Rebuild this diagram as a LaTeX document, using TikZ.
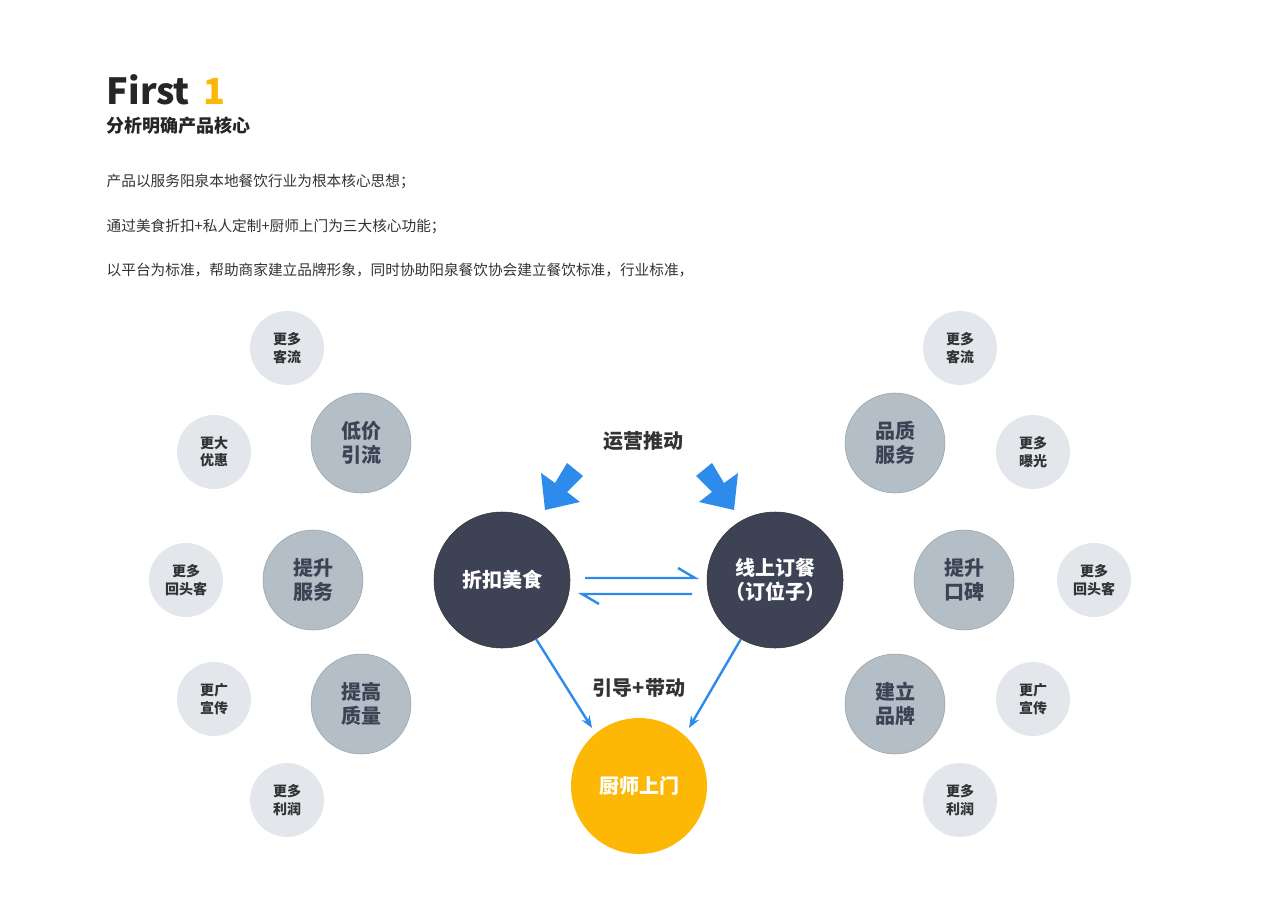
\documentclass[tikz,border=0pt]{standalone}
\usepackage{fontspec}
\setmainfont{Noto Sans CJK SC}
\usetikzlibrary{arrows.meta}
\definecolor{dk}{HTML}{3D4354}
\definecolor{md}{HTML}{B3BEC7}
\definecolor{lt}{HTML}{E3E7EB}
\definecolor{yl}{HTML}{FDB705}
\definecolor{bl}{HTML}{2D8CEB}
\definecolor{tx}{HTML}{333333}
\begin{document}
\begin{tikzpicture}[x=0.75pt,y=-0.75pt,
 small/.style={circle,fill=lt,minimum size=74*0.75pt,inner sep=0,align=center,font=\fontsize{10.5}{13}\selectfont\bfseries,text=tx},
 mid/.style={circle,fill=md,draw=md!85!black,line width=0.4pt,minimum size=100*0.75pt,inner sep=0,align=center,font=\fontsize{15}{18}\selectfont\bfseries,text=dk},
 big/.style={circle,fill=dk,draw=black!80,minimum size=136*0.75pt,inner sep=0,align=center,font=\fontsize{15}{18}\selectfont\bfseries,text=white},
 thin/.style={bl,line width=1.8pt,-{Stealth[length=9pt,width=7pt]}},
 lab/.style={font=\fontsize{15}{18}\selectfont\bfseries,text=tx},
 body/.style={anchor=west,font=\fontsize{11}{13}\selectfont,text=tx}]
\useasboundingbox (0,0) rectangle (1280,905);
\node[anchor=west,font=\fontsize{27}{30}\selectfont\bfseries,text=black!85] (t) at (102,90) {First\hspace{10pt}\textcolor{yl}{1}};
\node[anchor=west,font=\fontsize{13.5}{16}\selectfont\bfseries,text=black!85] (st) at (102,126) {分析明确产品核心};
\node[body] (b1) at (102,181) {产品以服务阳泉本地餐饮行业为根本核心思想；};
\node[body] (b2) at (102,226) {通过美食折扣+私人定制+厨师上门为三大核心功能；};
\node[body] (b3) at (102,270) {以平台为标准，帮助商家建立品牌形象，同时协助阳泉餐饮协会建立餐饮标准，行业标准，};
% left
\node[small] (l1) at (287,348) {更多\\客流};
\node[mid] (l2) at (361,443) {低价\\引流};
\node[small] (l3) at (214,452) {更大\\优惠};
\node[mid] (l4) at (313,580) {提升\\服务};
\node[small] (l5) at (186,580) {更多\\回头客};
\node[mid] (l6) at (361,704) {提高\\质量};
\node[small] (l7) at (214,699) {更广\\宣传};
\node[small] (l8) at (287,800) {更多\\利润};
% right
\node[small] (r1) at (960,348) {更多\\客流};
\node[mid] (r2) at (895,443) {品质\\服务};
\node[small] (r3) at (1033,452) {更多\\曝光};
\node[mid] (r4) at (964,580) {提升\\口碑};
\node[small] (r5) at (1094,580) {更多\\回头客};
\node[mid] (r6) at (895,704) {建立\\品牌};
\node[small] (r7) at (1033,699) {更广\\宣传};
\node[small] (r8) at (960,800) {更多\\利润};
% center
\node[big] (a) at (502,580) {折扣美食};
\node[big] (b) at (775,580) {线上订餐\\（订位子）};
\node[big,fill=yl,draw=none] (c) at (639,786) {厨师上门};
\node[lab] (op) at (643,441) {运营推动};
\node[lab] (gd) at (639,688) {引导+带动};
% fat arrows
\fill[bl] (567,463) -- (583,476) -- (567,492) -- (580,502) -- (545,510) -- (541,473) -- (555,483) -- cycle;
\fill[bl] (712,463) -- (696,476) -- (712,492) -- (699,502) -- (734,510) -- (738,473) -- (724,483) -- cycle;
% harpoons
\coordinate (h1) at (585,578); \coordinate (h2) at (695,578);
\coordinate (h3) at (692,594); \coordinate (h4) at (582,594);
\draw[bl,line width=1.8pt] (h1) -- (h2) -- ++(-17,-10);
\draw[bl,line width=1.8pt] (h3) -- (h4) -- ++(17,10);
\draw[thin] (a.-60) -- (592,728) coordinate (e1);
\draw[thin] (b.-120) -- (689,728) coordinate (e2);
\end{tikzpicture}
\end{document}
